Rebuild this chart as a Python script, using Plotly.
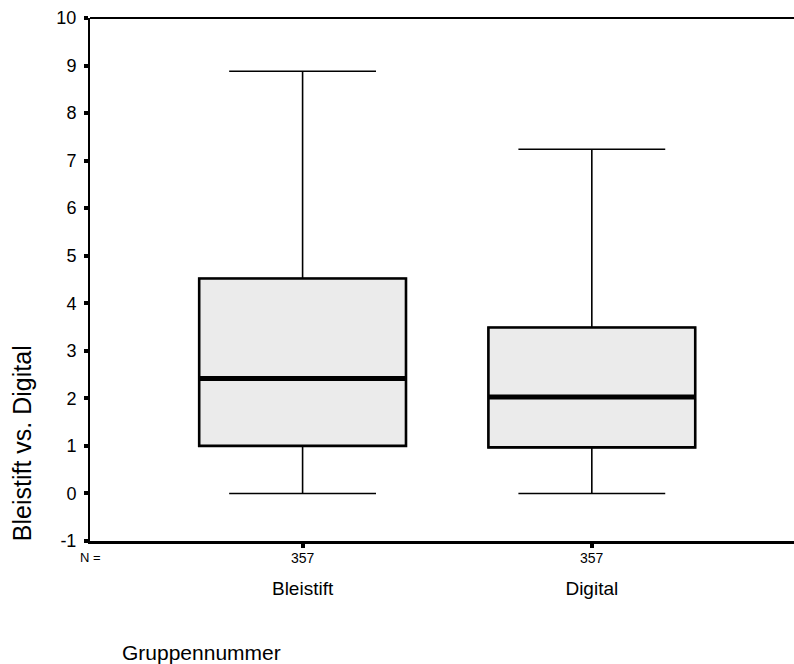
import plotly.graph_objects as go

# Summary statistics per group (score difference Bleistift vs. Digital)
categories = ["Bleistift", "Digital"]
positions = [1, 2]
n_values = [357, 357]
lower_whisker = [0.0, 0.0]
q1_values = [1.0, 0.97]
median_values = [2.42, 2.03]
q3_values = [4.52, 3.49]
upper_whisker = [8.88, 7.24]
y_ticks = list(range(-1, 11))
y_tick_labels = [str(v) for v in y_ticks]

BOX_WIDTH = 0.715
FONT = "Liberation Sans, Arial, sans-serif"

fig = go.Figure()

# whiskers and caps (thin)
fig.add_trace(go.Box(
    x=positions, q1=q1_values, median=median_values, q3=q3_values,
    lowerfence=lower_whisker, upperfence=upper_whisker,
    width=BOX_WIDTH, whiskerwidth=0.71, boxpoints=False,
    fillcolor="#ebebeb", line=dict(color="black", width=1.6),
    hoverinfo="skip", showlegend=False,
))

# box outline (heavier)
fig.add_trace(go.Box(
    x=positions, q1=q1_values, median=median_values, q3=q3_values,
    lowerfence=q1_values, upperfence=q3_values,
    width=BOX_WIDTH, whiskerwidth=0, boxpoints=False,
    fillcolor="#ebebeb", line=dict(color="black", width=2.6),
    hoverinfo="skip", showlegend=False,
))

# thick median bars
for pos, med in zip(positions, median_values):
    fig.add_trace(go.Scatter(
        x=[pos - BOX_WIDTH / 2, pos + BOX_WIDTH / 2], y=[med, med],
        mode="lines", line=dict(color="black", width=5),
        hoverinfo="skip", showlegend=False,
    ))

annotations = []
# group sizes under each tick
annotations.append(dict(text="N =", x=0.0, y=-0.0325, xref="paper", yref="paper",
                        xanchor="center", yanchor="middle", showarrow=False,
                        font=dict(family=FONT, size=13, color="black")))
for pos, n in zip(positions, n_values):
    annotations.append(dict(text=str(n), x=pos, y=-0.0325, xref="x", yref="paper",
                            xanchor="center", yanchor="middle", showarrow=False,
                            font=dict(family=FONT, size=14, color="black")))
# axis titles
annotations.append(dict(text="Bleistift vs. Digital", x=-0.0966, y=0.187,
                        xref="paper", yref="paper", textangle=-90,
                        xanchor="center", yanchor="middle", showarrow=False,
                        font=dict(family=FONT, size=25, color="black")))
annotations.append(dict(text="Gruppennummer", x=0.0426, y=-0.214,
                        xref="paper", yref="paper",
                        xanchor="left", yanchor="middle", showarrow=False,
                        font=dict(family=FONT, size=21, color="black")))

fig.update_layout(
    width=794, height=664,
    margin=dict(l=90, r=0, t=18, b=123),
    paper_bgcolor="white", plot_bgcolor="white",
    font=dict(family=FONT, color="black"),
    annotations=annotations,
    shapes=[dict(type="line", xref="paper", yref="paper", x0=0, x1=1, y0=1, y1=1,
                 line=dict(color="black", width=2))],
    xaxis=dict(
        range=[0.265, 2.699], tickvals=positions, ticktext=categories,
        showgrid=False, zeroline=False, showline=True, linecolor="black", linewidth=3,
        ticks="outside", ticklen=4, tickwidth=4, tickcolor="black",
        ticklabelstandoff=24, tickfont=dict(family=FONT, size=19, color="black"),
    ),
    yaxis=dict(
        range=[-1, 10], tickvals=y_ticks, ticktext=y_tick_labels,
        showgrid=False, zeroline=False, showline=True, linecolor="black", linewidth=2,
        ticks="outside", ticklen=4, tickwidth=4, tickcolor="black",
        ticklabelstandoff=4, tickfont=dict(family=FONT, size=18, color="black"),
    ),
)

fig.write_html("out.html")
